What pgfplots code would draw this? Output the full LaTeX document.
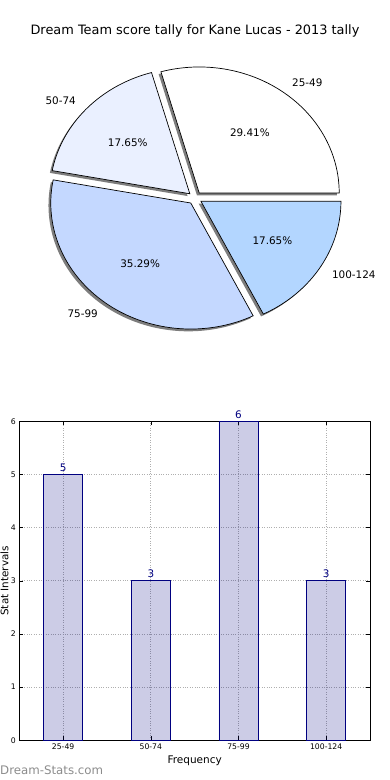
\documentclass[border=0pt]{standalone}
\usepackage{fontspec}
\setmainfont{DejaVu Sans}
\usepackage{pgfplots}
\pgfplotsset{compat=1.18}
\definecolor{pA}{RGB}{255,255,255}
\definecolor{pB}{RGB}{234,240,255}
\definecolor{pC}{RGB}{196,216,255}
\definecolor{pD}{RGB}{179,214,255}
\definecolor{shadowc}{RGB}{125,125,125}
\definecolor{navyc}{RGB}{0,0,128}
\definecolor{gridc}{RGB}{175,175,175}
\definecolor{wmark}{RGB}{140,140,140}
% data
\def\vA{5}\def\vB{3}\def\vC{6}\def\vD{3}
% pie geometry (pt units, y upward; page is 390 x 780)
\def\cx{195}\def\cy{582}\def\rx{140}\def\ry{126}\def\ex{0.05}
\def\sh{2.3}
\newcommand\mkslice[3]{%
  \pgfmathsetmacro\tmpm{(#2+#3)/2}%
  \pgfmathsetmacro\tmpx{\cx+\ex*\rx*cos(\tmpm)}%
  \pgfmathsetmacro\tmpy{\cy+\ex*\ry*sin(\tmpm)}%
  \expandafter\let\csname mid#1\endcsname\tmpm
  \expandafter\let\csname ox#1\endcsname\tmpx
  \expandafter\let\csname oy#1\endcsname\tmpy}
\begin{document}
\begin{tikzpicture}
\path[use as bounding box] (0pt,0pt) rectangle (390pt,780pt);
\pgfmathsetmacro\tot{\vA+\vB+\vC+\vD}
\pgfmathsetmacro\aA{0}
\pgfmathsetmacro\aB{360*\vA/\tot}
\pgfmathsetmacro\aC{360*(\vA+\vB)/\tot}
\pgfmathsetmacro\aD{360*(\vA+\vB+\vC)/\tot}
\pgfmathsetmacro\aE{360}
\mkslice{A}{\aA}{\aB}
\mkslice{B}{\aB}{\aC}
\mkslice{C}{\aC}{\aD}
\mkslice{D}{\aD}{\aE}
\begin{axis}[at={(0pt,380pt)}, anchor=south west, scale only axis,
  width=390pt, height=400pt, xmin=0, xmax=390, ymin=380, ymax=780,
  hide axis, clip=false]
% shadows
\addplot[draw=none, fill=shadowc, domain=\aA:\aB, samples=90, variable=\t] ({\oxA-\sh+\rx*cos(\t)},{\oyA-\sh+\ry*sin(\t)}) -- (axis cs:\oxA-\sh,\oyA-\sh) -- cycle;
\addplot[draw=none, fill=shadowc, domain=\aB:\aC, samples=60, variable=\t] ({\oxB-\sh+\rx*cos(\t)},{\oyB-\sh+\ry*sin(\t)}) -- (axis cs:\oxB-\sh,\oyB-\sh) -- cycle;
\addplot[draw=none, fill=shadowc, domain=\aC:\aD, samples=100, variable=\t] ({\oxC-\sh+\rx*cos(\t)},{\oyC-\sh+\ry*sin(\t)}) -- (axis cs:\oxC-\sh,\oyC-\sh) -- cycle;
\addplot[draw=none, fill=shadowc, domain=\aD:\aE, samples=60, variable=\t] ({\oxD-\sh+\rx*cos(\t)},{\oyD-\sh+\ry*sin(\t)}) -- (axis cs:\oxD-\sh,\oyD-\sh) -- cycle;
% slices
\addplot[draw=black, line width=0.7pt, fill=pA, domain=\aA:\aB, samples=90, variable=\t] ({\oxA+\rx*cos(\t)},{\oyA+\ry*sin(\t)}) -- (axis cs:\oxA,\oyA) -- cycle;
\addplot[draw=black, line width=0.7pt, fill=pB, domain=\aB:\aC, samples=60, variable=\t] ({\oxB+\rx*cos(\t)},{\oyB+\ry*sin(\t)}) -- (axis cs:\oxB,\oyB) -- cycle;
\addplot[draw=black, line width=0.7pt, fill=pC, domain=\aC:\aD, samples=100, variable=\t] ({\oxC+\rx*cos(\t)},{\oyC+\ry*sin(\t)}) -- (axis cs:\oxC,\oyC) -- cycle;
\addplot[draw=black, line width=0.7pt, fill=pD, domain=\aD:\aE, samples=60, variable=\t] ({\oxD+\rx*cos(\t)},{\oyD+\ry*sin(\t)}) -- (axis cs:\oxD,\oyD) -- cycle;
% labels
\node[anchor=base, font=\fontsize{12.9}{14}\selectfont, inner sep=0pt] at (axis cs:195,745.5) {Dream Team score tally for Kane Lucas - 2013 tally};
\node[anchor=west, font=\fontsize{10.4}{12}\selectfont, inner sep=0pt] at (axis cs:{\oxA+1.1*\rx*cos(\midA)},{\oyA+1.1*\ry*sin(\midA)}) {25-49};
\node[anchor=east, font=\fontsize{10.4}{12}\selectfont, inner sep=0pt] at (axis cs:{\oxB+1.1*\rx*cos(\midB)},{\oyB+1.1*\ry*sin(\midB)}) {50-74};
\node[anchor=east, font=\fontsize{10.4}{12}\selectfont, inner sep=0pt] at (axis cs:{\oxC+1.1*\rx*cos(\midC)},{\oyC+1.1*\ry*sin(\midC)}) {75-99};
\node[anchor=west, font=\fontsize{10.4}{12}\selectfont, inner sep=0pt] at (axis cs:{\oxD+1.1*\rx*cos(\midD)},{\oyD+1.1*\ry*sin(\midD)}) {100-124};
\node[font=\fontsize{10.4}{12}\selectfont, inner sep=0pt] at (axis cs:{\oxA+0.6*\rx*cos(\midA)},{\oyA+0.6*\ry*sin(\midA)}) {29.41\%};
\node[font=\fontsize{10.4}{12}\selectfont, inner sep=0pt] at (axis cs:{\oxB+0.6*\rx*cos(\midB)},{\oyB+0.6*\ry*sin(\midB)}) {17.65\%};
\node[font=\fontsize{10.4}{12}\selectfont, inner sep=0pt] at (axis cs:{\oxC+0.6*\rx*cos(\midC)},{\oyC+0.6*\ry*sin(\midC)}) {35.29\%};
\node[font=\fontsize{10.4}{12}\selectfont, inner sep=0pt] at (axis cs:{\oxD+0.6*\rx*cos(\midD)},{\oyD+0.6*\ry*sin(\midD)}) {17.65\%};
\end{axis}
\begin{axis}[at={(19.3pt,39.7pt)}, anchor=south west, scale only axis,
  width=350.7pt, height=319pt,
  xmin=-0.5, xmax=3.5, ymin=0, ymax=6,
  xtick={0,1,2,3}, xticklabels={25-49,50-74,75-99,100-124},
  ytick={0,1,...,6},
  tick label style={font=\fontsize{7.7}{9}\selectfont},
  /pgf/number format/assume math mode=true,
  grid=major, grid style={dotted, gridc, line width=0.9pt},
  tick align=inside, major tick length=4pt, tick style={black, line width=0.6pt},
  axis line style={line width=0.8pt},
  clip=false]
\addplot[ybar, bar width=0.445, fill=navyc, fill opacity=0.2, draw=navyc, draw opacity=1, line width=0.8pt,
  nodes near coords, nodes near coords style={font=\fontsize{10.4}{12}\selectfont, text=navyc, text opacity=1, inner sep=2.5pt, anchor=south}]
  coordinates {(0,5) (1,3) (2,6) (3,3)};
\node[rotate=90, anchor=base, font=\fontsize{10.4}{12}\selectfont, inner sep=0pt] at ([xshift=-10.8pt]rel axis cs:0,0.5) {Stat Intervals};
\node[anchor=base, font=\fontsize{10.5}{12}\selectfont, inner sep=0pt] at ([yshift=-23.4pt]rel axis cs:0.5,0) {Frequency};
\node[anchor=base west, font=\fontsize{11.8}{13}\selectfont, text=wmark, inner sep=0pt] at ([xshift=-19.3pt,yshift=-33.7pt]rel axis cs:0,0) {Dream-Stats.com};
\end{axis}
\end{tikzpicture}
\end{document}
